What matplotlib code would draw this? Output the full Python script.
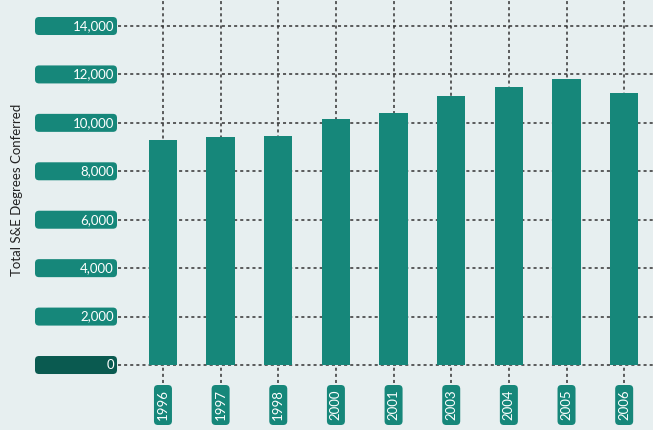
import matplotlib
matplotlib.use("Agg")
import matplotlib.pyplot as plt
from matplotlib.patches import FancyBboxPatch
from matplotlib.transforms import IdentityTransform

years = ["1996", "1997", "1998", "2000", "2001", "2003", "2004", "2005", "2006"]
degrees = [9300, 9400, 9450, 10150, 10400, 11100, 11500, 11800, 11230]
yticks = [0, 2000, 4000, 6000, 8000, 10000, 12000, 14000]
ytick_labels = ["0", "2,000", "4,000", "6,000", "8,000", "10,000", "12,000", "14,000"]
ylabel = "Total S&E Degrees Conferred"

BG = "#e7eff0"
TEAL = "#16877a"
DARK = "#0a5a50"
GRID = "#333333"
FONT = ["Lato", "DejaVu Sans"]

W, H = 653, 430
fig = plt.figure(figsize=(W / 100, H / 100), dpi=100, facecolor=BG)
ax = fig.add_axes([118 / W, (H - 383) / H, (W - 118) / W, 383 / H])
ax.set_facecolor(BG)

x = list(range(len(years)))
ax.bar(x, degrees, width=0.49, color=TEAL, zorder=3)
ax.set_xlim(-0.78, 8.5)
ax.set_ylim(-743, 15074)

ax.set_yticks(yticks)
ax.set_xticks(x)
ax.grid(True, color=GRID, linestyle=(0, (2, 2)), linewidth=1.1, zorder=1)
ax.tick_params(length=0, labelleft=False, labelbottom=False)
for s in ax.spines.values():
    s.set_visible(False)

fig.canvas.draw()
ident = IdentityTransform()

# y tick label boxes
for v, lab in zip(yticks, ytick_labels):
    yp = ax.transData.transform((0, v))[1]
    col = DARK if v == 0 else TEAL
    box = FancyBboxPatch((38, yp - 6), 76, 12,
                         boxstyle="round,pad=3,rounding_size=4",
                         transform=ident, facecolor=col, edgecolor="none")
    fig.patches.append(box)
    fig.text(114 / W, yp / H, lab, ha="right", va="center", color="white",
             fontsize=9.5, family=FONT)

# x tick label boxes
for xi, lab in zip(x, years):
    xp = ax.transData.transform((xi, 0))[0]
    yc = H - 405
    box = FancyBboxPatch((xp - 6, yc - 17), 12, 34,
                         boxstyle="round,pad=3,rounding_size=4",
                         transform=ident, facecolor=TEAL, edgecolor="none")
    fig.patches.append(box)
    fig.text(xp / W, yc / H, lab, ha="center", va="center", rotation=90,
             color="white", fontsize=9.5, family=FONT)

fig.text(17 / W, (H - 190) / H, ylabel, rotation=90, ha="center", va="center",
         color="#222222", fontsize=9.5, family=FONT)

fig.savefig("out.png", dpi=100, facecolor=BG)
